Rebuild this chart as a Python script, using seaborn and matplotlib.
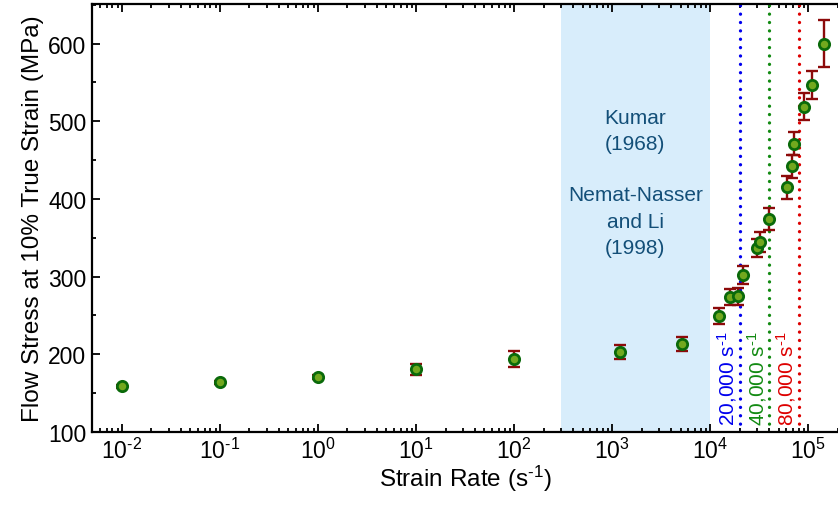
import numpy as np
import pandas as pd
import seaborn as sns
import matplotlib
matplotlib.use("Agg")
import matplotlib.pyplot as plt
import matplotlib.transforms as mtransforms
from matplotlib.ticker import (FixedLocator, LogLocator, MultipleLocator,
                               NullFormatter, FuncFormatter)

# データ
strain_rate = [0.01, 0.1, 1, 10, 100, 1200, 5200,
               12400, 16000, 19200, 21600, 30400, 32400, 40300,
               60500, 68100, 72400, 91600, 109000, 146000]
flow_stress = [159, 164, 171, 181, 194, 203, 213,
               249, 274, 275, 302, 337, 345, 374,
               415, 442, 471, 519, 547, 600]
stress_err = [2, 2, 3, 7, 10, 9, 9,
              10, 10, 11, 12, 12, 13, 14,
              15, 15, 15, 17, 18, 30]

decades = [-2, -1, 0, 1, 2, 3, 4, 5]
ref_range = [300, 10000]
ref_labels = ["Kumar\n(1968)", "Nemat-Nasser\nand Li\n(1998)"]
line_rates = [20000, 40000, 80000]
line_labels = ["20,000 s$^{\\text{-}1}$", "40,000 s$^{\\text{-}1}$", "80,000 s$^{\\text{-}1}$"]
line_colors = ["#0000ee", "#128a12", "#dd0000"]

df = pd.DataFrame({"rate": strain_rate, "stress": flow_stress, "err": stress_err})

sns.set_style("ticks")
plt.rcParams["font.family"] = ["Liberation Sans", "DejaVu Sans"]
plt.rcParams["mathtext.fontset"] = "custom"
plt.rcParams["mathtext.rm"] = "Liberation Sans"
plt.rcParams["mathtext.it"] = "Liberation Sans:italic"
plt.rcParams["mathtext.default"] = "regular"
for k in ["text.color", "axes.labelcolor", "xtick.color", "ytick.color"]:
    plt.rcParams[k] = "black"

fig = plt.figure(figsize=(8.38, 5.06), dpi=100)
ax = fig.add_axes([92 / 838, 73 / 506, 746 / 838, 428 / 506])

# 参照範囲の網掛け
ax.axvspan(ref_range[0], ref_range[1], color="#d8edfb", zorder=0, lw=0)
xc = np.sqrt(ref_range[0] * ref_range[1])
ax.text(xc, 488, ref_labels[0], ha="center", va="center", fontsize=15,
        color="#134f78", linespacing=1.5)
ax.text(xc, 371, ref_labels[1], ha="center", va="center", fontsize=15,
        color="#134f78", linespacing=1.5)

# 縦の点線
shift = mtransforms.offset_copy(ax.transData, fig=fig, x=-12, y=0, units="dots")
for r, lab, c in zip(line_rates, line_labels, line_colors):
    ax.axvline(r, color=c, lw=2.4, linestyle=(0, (0.01, 2.5)),
               dash_capstyle="round", zorder=2)
    ax.text(r, 109, lab, rotation=90, ha="center", va="bottom", fontsize=15,
            color=c, transform=shift, zorder=3)

# エラーバーと点
ax.errorbar(df["rate"], df["stress"], yerr=df["err"], fmt="none",
            ecolor="#8c0a0a", elinewidth=1.7, capsize=4.5, capthick=1.7, zorder=4)
sns.scatterplot(data=df, x="rate", y="stress", ax=ax, s=55, color="#72a81e",
                edgecolor="#0a6a0a", linewidth=2.0, zorder=5, legend=False)

ax.set_xscale("log")
ax.set_xlim(10 ** -2.306, 10 ** 5.306)
ax.set_ylim(100, 651)
ax.xaxis.set_major_locator(FixedLocator([10.0 ** d for d in decades]))
ax.xaxis.set_major_formatter(FuncFormatter(
    lambda v, p: "10$^{\\text{%s}}$" % str(int(round(np.log10(v))))))
ax.xaxis.set_minor_locator(LogLocator(base=10, subs=np.arange(2, 10), numticks=20))
ax.xaxis.set_minor_formatter(NullFormatter())
ax.yaxis.set_major_locator(MultipleLocator(100))
ax.yaxis.set_minor_locator(MultipleLocator(50))

ax.tick_params(which="both", direction="in", top=True, right=False, width=1.3)
ax.tick_params(which="major", length=6, labelsize=16.5, pad=4)
ax.tick_params(which="minor", length=3)
for s in ["left", "bottom", "top"]:
    ax.spines[s].set_linewidth(1.6)
    ax.spines[s].set_color("black")
ax.spines["right"].set_visible(False)

ax.set_xlabel("Strain Rate (s$^{\\text{-}1}$)", fontsize=17.5, labelpad=0)
ax.set_ylabel("Flow Stress at 10% True Strain (MPa)", fontsize=17.5, labelpad=3)

fig.savefig("out.png", dpi=100)
